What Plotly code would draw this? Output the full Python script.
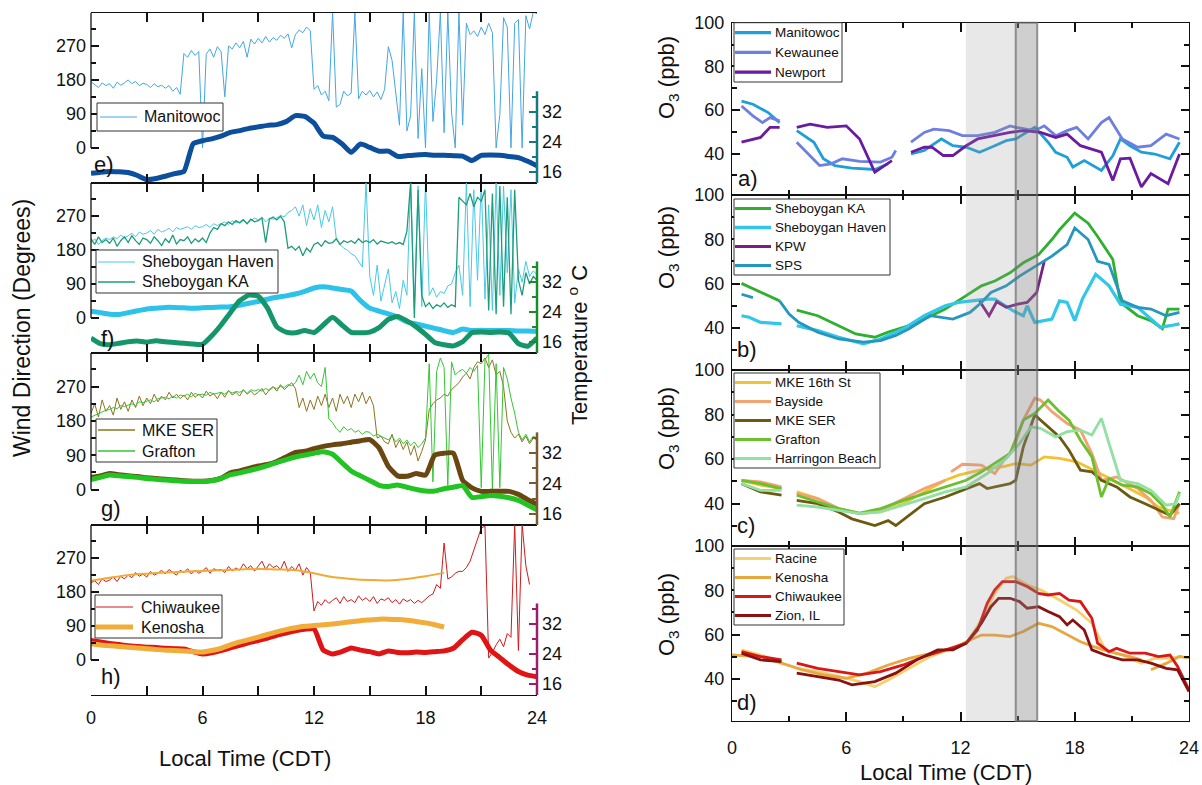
import numpy as np
import plotly.graph_objects as go

# ---------------------------------------------------------------------------
# Wind direction (degrees), one sample every 0.2 h starting at 00:00 CDT
# ---------------------------------------------------------------------------
WD_STEP = 0.2

MANITOWOC_WD = [
    175, 168, 160, 172, 165, 170, 158, 174, 166, 172, 180, 170, 176, 165, 171, 168, 160, 170, 162, 166,
    158, 165, 150, 160, 142, 250, 240, 258, 245, 255, 0, 248, 262, 240, 268, 255, 135, 270, 262, 278,
    265, 282, 240, 288, 275, 290, 278, 295, 280, 292, 285, 298, 290, 302, 265, 300, 312, 305, 320, 310,
    155, 165, 140, 150, 125, 360, 108, 115, 150, 138, 145, 360, 130, 150, 140, 152, 135, 148, 128, 155,
    268, 232, 145, 60, 360, 45, 85, 360, 25, 210, 0, 360, 70, 180, 360, 40, 360, 95, 0, 360,
    60, 330, 300, 310, 295, 320, 300, 330, 305, 0, 88, 345, 320, 0, 330, 340, 0, 350, 315, 360, 355]

SHEB_HAVEN_WD = [
    200, 210, 195, 205, 212, 208, 215, 210, 220, 212, 218, 225, 215, 228, 222, 225, 232, 222, 235, 228,
    232, 238, 228, 240, 235, 238, 242, 235, 245, 240, 242, 248, 240, 250, 245, 250, 255, 248, 258, 252,
    255, 262, 250, 258, 265, 260, 268, 255, 265, 262, 265, 272, 268, 280, 285, 295, 270, 300, 245, 290,
    260, 300, 240, 285, 255, 295, 210, 195, 185, 180, 170, 165, 150, 135, 360, 110, 60, 140, 45, 90,
    130, 40, 70, 25, 100, 60, 360, 20, 350, 30, 360, 60, 80, 55, 70, 65, 85, 90, 120, 140,
    60, 360, 30, 340, 100, 360, 50, 300, 20, 360, 60, 350, 120, 340, 40, 130, 95, 150, 110, 125, 115]

SHEB_KA_WD = [
    210, 195, 215, 200, 208, 198, 212, 190, 205, 215, 200, 218, 205, 195, 212, 208, 198, 215, 205, 192,
    210, 200, 220, 196, 208, 205, 215, 198, 210, 202, 212, 200, 225, 240, 235, 250, 245, 255, 248, 258,
    252, 260, 250, 262, 255, 258, 265, 200, 262, 268, 260, 270, 255, 185, 190, 180, 190, 165, 185, 175,
    195, 200, 190, 205, 198, 200, 210, 195, 205, 200, 205, 198, 210, 200, 205, 200, 208, 196, 204, 200,
    198, 202, 196, 200, 195, 230, 360, 0, 340, 60, 30, 40, 25, 35, 30, 40, 28, 35, 30, 320,
    310, 300, 330, 295, 320, 310, 340, 20, 330, 10, 350, 30, 320, 10, 340, 100, 60, 120, 90, 110, 100]

MKE_SER_WD = [
    200, 225, 190, 235, 205, 220, 195, 240, 210, 230, 205, 235, 215, 245, 220, 240, 225, 250, 230, 245,
    235, 255, 240, 250, 238, 248, 235, 255, 242, 250, 240, 258, 245, 252, 238, 255, 242, 260, 248, 255,
    245, 262, 250, 258, 248, 255, 265, 248, 262, 270, 258, 275, 262, 270, 280, 265, 215, 240, 205, 235,
    210, 245, 220, 250, 215, 240, 205, 250, 225, 245, 215, 250, 230, 255, 225, 245, 220, 135, 140, 125,
    120, 145, 110, 130, 105, 125, 90, 115, 75, 100, 130, 210, 225, 235, 240, 250, 245, 262, 270, 280,
    295, 305, 290, 320, 335, 330, 345, 320, 340, 300, 310, 270, 180, 150, 135, 145, 125, 140, 120, 135, 130]

GRAFTON_WD = [
    190, 195, 200, 205, 208, 210, 215, 212, 220, 218, 222, 225, 220, 230, 228, 232, 235, 230, 238, 240,
    242, 238, 245, 240, 248, 245, 250, 243, 252, 248, 250, 247, 255, 250, 252, 255, 250, 258, 253, 257,
    255, 260, 252, 262, 258, 262, 258, 265, 260, 268, 265, 270, 268, 275, 272, 280, 300, 275, 310, 290,
    305, 280, 270, 320, 185, 175, 160, 150, 165, 155, 160, 150, 155, 145, 152, 150, 140, 145, 140, 135,
    130, 140, 125, 135, 120, 130, 115, 125, 110, 120, 135, 330, 20, 310, 345, 320, 10, 335, 300, 310,
    315, 305, 320, 310, 325, 5, 340, 355, 0, 330, 5, 320, 290, 240, 200, 150, 130, 145, 125, 140, 135]

CHIWAUKEE_WD = [
    205, 210, 200, 215, 208, 212, 220, 208, 222, 215, 225, 218, 232, 222, 228, 220, 235, 225, 230, 238,
    228, 240, 232, 225, 238, 232, 242, 228, 238, 230, 236, 245, 230, 242, 238, 240, 232, 248, 236, 244,
    238, 255, 242, 250, 236, 248, 262, 240, 255, 245, 250, 240, 262, 235, 248, 238, 255, 225, 245, 232,
    130, 155, 145, 160, 150, 158, 165, 150, 168, 155, 160, 152, 170, 158, 165, 155, 168, 150, 162, 158,
    165, 152, 160, 148, 162, 155, 160, 150, 158, 152, 160, 170, 175, 200, 190, 310, 215, 220, 230, 235,
    235, 245, 262, 290, 320, 350, 355, 5, 20, 40, 55, 35, 70, 60, 360, 25, 360, 250, 200]

# Kenosha wind direction, hourly (smooth record)
KENOSHA_WD_T = list(range(0, 20))
KENOSHA_WD = [210, 218, 225, 229, 232, 234, 236, 238, 240, 241, 240, 238, 230, 220, 215, 212, 211, 215, 222, 231]

# ---------------------------------------------------------------------------
# Temperature (deg C), one sample every 0.5 h
# ---------------------------------------------------------------------------
T_STEP = 0.5

MANITOWOC_T = [15.6, 15.9, 16.1, 16.0, 15.8, 15.0, 13.9, 14.2, 14.8, 15.5, 16.1, 23.5, 24.3, 24.8, 25.5,
               26.5, 27.0, 27.6, 28.0, 28.4, 28.6, 29.4, 31.0, 30.8, 29.0, 25.5, 25.2, 23.5, 21.2, 23.4,
               22.5, 21.5, 21.5, 20.1, 20.3, 20.5, 20.6, 20.4, 20.4, 20.3, 20.2, 19.0, 20.4, 20.5, 20.4,
               20.1, 19.8, 18.8, 17.6]

SHEB_HAVEN_T = [24.2, 23.8, 23.4, 23.3, 23.8, 24.3, 24.8, 25.0, 25.2, 25.2, 25.1, 25.0, 25.1, 25.2, 25.3,
                25.4, 25.8, 26.3, 26.8, 27.4, 27.9, 28.3, 28.8, 29.5, 30.4, 30.7, 30.4, 30.0, 29.6, 27.0,
                25.0, 24.2, 23.5, 22.6, 21.3, 20.8, 20.2, 19.6, 19.0, 18.5, 19.4, 19.0, 19.1, 19.0, 19.0,
                19.0, 18.9, 18.9, 18.8]

SHEB_KA_T = [17.0, 15.5, 15.2, 15.6, 16.0, 16.2, 15.9, 16.3, 16.0, 15.8, 15.6, 15.4, 15.3, 17.6, 20.5,
             23.8, 27.0, 28.5, 28.2, 25.0, 20.0, 18.6, 18.4, 19.0, 18.5, 20.5, 22.6, 20.5, 18.5, 18.4,
             18.6, 19.8, 22.0, 22.8, 21.6, 20.0, 18.0, 15.8, 15.2, 14.9, 16.0, 18.4, 18.6, 18.5, 18.6,
             18.3, 15.5, 14.8, 17.0]

MKE_SER_T = [25.6, 26.0, 26.6, 26.3, 26.0, 25.8, 25.5, 25.3, 25.1, 24.9, 24.7, 24.6, 24.6, 24.8, 25.4,
             26.8, 27.3, 28.0, 28.6, 29.0, 29.8, 31.0, 32.2, 32.5, 33.2, 33.8, 34.2, 34.5, 34.9, 35.3,
             35.6, 33.4, 28.5, 26.0, 25.9, 26.6, 26.2, 31.5, 32.0, 32.0, 24.8, 22.8, 21.9, 21.9, 21.9,
             21.9, 21.1, 19.7, 18.5]

GRAFTON_T = [25.0, 25.6, 26.2, 26.0, 25.8, 25.6, 25.3, 25.1, 24.9, 24.7, 24.6, 24.5, 24.5, 24.7, 25.3,
             26.3, 26.8, 27.4, 28.0, 28.7, 29.5, 30.3, 31.0, 31.5, 32.0, 32.4, 31.7, 29.5, 27.3, 26.0,
             24.8, 23.5, 23.2, 23.6, 23.0, 22.4, 22.0, 22.0, 22.6, 23.0, 23.4, 20.3, 20.5, 20.8, 20.6,
             20.2, 19.5, 18.3, 17.0]

KENOSHA_T = [26.7, 26.4, 26.2, 26.0, 25.8, 25.6, 25.4, 25.2, 25.0, 24.9, 24.8, 24.6, 24.5, 24.9, 25.5,
             26.4, 27.2, 27.8, 28.5, 29.2, 29.9, 30.5, 31.0, 31.4, 31.6, 31.8, 32.0, 32.3, 32.6, 32.9,
             33.1, 33.3, 33.3, 33.2, 33.0, 32.7, 32.3, 31.8, 31.2]

CHIWAUKEE_T = [27.6, 27.2, 26.8, 26.5, 26.2, 26.0, 25.8, 25.7, 25.5, 25.4, 25.3, 24.6, 24.0, 24.3, 24.9,
               25.6, 26.3, 27.0, 27.6, 28.2, 29.0, 29.6, 30.2, 30.6, 30.7, 25.0, 24.0, 24.6, 25.6, 25.0,
               24.6, 24.0, 24.8, 24.4, 24.3, 24.5, 24.4, 24.6, 24.8, 25.5, 27.8, 29.8, 29.0, 25.0, 23.0,
               21.0, 19.3, 18.3, 17.9]

# ---------------------------------------------------------------------------
# Hourly-averaged O3 (ppb); None marks gaps in the record
# ---------------------------------------------------------------------------
MANITOWOC_O3_T = [0.5, 1.1, 1.9, 2.5, None, 3.4, 4.3, 4.8, 5.4, 6.3, 7.5, 8.2, None, 9.4, 10.1, 11.0, 11.6,
                  12.3, 13.0, 13.8, 14.4, 14.9, 15.9, 16.6, 17.0, 17.6, 17.9, 18.5, 19.4, 20.0, 20.4, 20.9,
                  21.5, 22.2, 23.0, 23.5]
MANITOWOC_O3 = [64, 62.6, 58.8, 54.2, None, 50.5, 45.2, 37.6, 34.5, 33.3, 32.7, 35.3, None, 39.8, 41.4, 46.7,
                43.6, 42.9, 40.6, 43.6, 45.9, 46.7, 52, 45.2, 40.6, 38.3, 33.8, 36.8, 32.3, 39, 46.7, 43.6,
                40.6, 39.8, 37.6, 45.2]

KEWAUNEE_O3_T = [0.5, 1.1, 1.6, 2.0, 2.5, None, 3.4, 4.1, 4.6, 5.2, 5.8, 6.7, 7.8, 8.4, 8.6, None, 9.4, 10.1,
                 10.6, 11.4, 12.1, 12.9, 13.8, 14.6, 14.9, 15.9, 16.4, 17.0, 17.6, 18.1, 18.7, 19.4, 19.8,
                 20.5, 21.3, 22.0, 22.8, 23.5]
KEWAUNEE_O3 = [61.8, 57.3, 54.2, 56.5, 55, None, 45.2, 39.1, 34.5, 35.3, 37.6, 36.4, 36.1, 38.3, 41.4, None,
               45.2, 49.7, 51.2, 50.5, 48.2, 48.2, 49.7, 52.7, 52, 50.5, 52.7, 48.2, 50.5, 52, 46.7, 54.2,
               56.5, 46.7, 42.9, 43.6, 48.9, 46.7]

NEWPORT_O3_T = [0.5, 1.5, 2.0, 2.5, None, 3.4, 4.1, 5.0, 6.0, 6.7, 7.5, 8.4, None, 9.4, 10.1, 10.5, 11.1, 11.6,
                12.3, 12.9, 13.8, 14.6, 15.3, 16.2, 17.0, 17.6, 18.3, 18.8, 19.4, 20.0, 20.4, 20.9, 21.5,
                22.0, 22.9, 23.5]
NEWPORT_O3 = [45.2, 47.4, 52, 52, None, 52, 53.5, 52, 52.7, 46.7, 31.5, 36.8, None, 40.6, 42.9, 42.9, 39.1,
              39.1, 43.6, 46.7, 48.2, 49.7, 50.5, 49.7, 47.4, 48.9, 43.6, 42.1, 40.6, 27.7, 37.6, 37.9, 24.7,
              30.8, 26.2, 39.8]

SHEB_KA_O3_T = [0.5, 1.5, 2.5, None, 3.4, 4.5, 5.6, 6.5, 7.5, 8.2, 9.3, 10.1, 11.2, 12.3, 13.1, 13.8, 14.6,
                15.3, 16.1, 16.8, 17.2, 18.0, 18.7, 19.2, 20.0, 20.4, 21.3, 22.0, 22.6, 22.9, 23.5]
SHEB_KA_O3 = [60.1, 56, 52.2, None, 48, 45.5, 41, 37.3, 35.8, 38.1, 41, 44, 48.5, 54.5, 59, 61.2, 64.9, 69.4,
              73.1, 79.9, 84.3, 91.8, 87.3, 81.3, 70.9, 51.5, 45.5, 43.3, 39.6, 48.5, 48.5]

SHEB_HAVEN_O3_T = [0.5, 0.9, 1.5, 2.6, None, 3.4, 4.5, 5.6, 6.9, 7.8, 9.0, 10.1, 11.2, 11.9, 12.5, 13.4, 13.8,
                   14.75, 15.3, 15.5, 15.9, 16.8, 17.2, 17.6, 18.0, 18.4, 19.1, 19.8, 20.4, 21.3, 22.0, 22.5,
                   23.0, 23.5]
SHEB_HAVEN_O3 = [45.5, 44.8, 42.5, 41.8, None, 41, 38.8, 35.8, 32.8, 35, 39.6, 45.5, 50, 51.5, 52.2, 53, 53,
                 47.8, 45.5, 50, 42.5, 44, 52.2, 51.5, 43.3, 53, 64.2, 59, 50.7, 49.3, 44, 40.3, 41, 41.8]

KPW_O3_T = [13.0, 13.5, 13.9, 14.4, 15.0, 15.5, 16.0, 16.4]
KPW_O3 = [52.2, 45.5, 51.8, 49.3, 50.7, 51.5, 56, 70.1]

SPS_O3_T = [0.5, 1.1, None, 2.5, 3.0, 3.5, 4.5, 5.6, 6.9, 7.8, 8.6, 9.3, 10.4, 11.6, 12.5, 13.1, 13.6, 14.4,
            15.1, 16.1, 16.8, 17.6, 18.0, 18.7, 19.2, 19.8, 20.5, 21.3, 22.0, 22.8, 23.5]
SPS_O3 = [55.2, 53.7, None, 52.2, 46.3, 42.5, 38.1, 35, 33.6, 34.3, 36.6, 39.6, 45.5, 44, 47, 51.5, 56, 59,
          63.4, 68.7, 72.4, 77.6, 85.1, 79.9, 70.1, 68.7, 52.2, 49.3, 48.5, 45.5, 47]

MKE16_O3_T = [0.5, 1.5, 2.6, None, 3.4, 4.5, 5.6, 6.7, 7.8, 9.0, 10.1, 11.2, 11.9, 12.7, 13.4, 14.2, 14.9,
              15.7, 16.4, 17.2, 18.1, 19.0, 19.8, 20.7, 21.7, 22.4, 23.2, 23.5]
MKE16_O3 = [50.5, 48.3, 46.8, None, 45.3, 42.3, 37.8, 35.5, 36.3, 40, 45.3, 50.5, 52.8, 54.3, 55.8, 56.5, 58,
            57.3, 61, 60.3, 58.8, 55, 51.3, 47.5, 43, 38.5, 36.3, 35.8]

BAYSIDE_O3_T = [0.5, 1.5, 2.6, None, 3.4, 4.5, 5.6, 6.7, 7.8, 9.0, 10.1, 11.2, None, 11.5, 12.1, 13.1, 13.8,
                14.4, 14.75, 15.3, 15.9, 16.2, 16.8, 17.6, 18.3, 18.9, 19.4, 20.2, 21.3, 22.0, 22.6, 23.2, 23.5]
BAYSIDE_O3 = [50.5, 49.8, 47.5, None, 44.5, 42.3, 37.8, 35.5, 37, 42.3, 46.8, 50.5, None, 54.3, 57.7, 57.3,
              53.5, 61, 64, 77.5, 87.3, 86.5, 81.3, 76, 73, 62.5, 50.5, 52, 46.8, 41.5, 34, 33.3, 40]

MKESER_O3_T = [0.5, 1.5, 2.6, None, 3.4, 4.5, 5.6, 6.3, 7.5, 8.2, 8.6, 9.3, 10.1, 11.2, 12.3, 13.0, 13.4, 13.8,
               14.6, 14.9, 15.3, 15.9, 16.6, 17.2, 17.7, 18.3, 18.9, 19.4, 20.2, 20.9, 21.7, 22.4, 23.0, 23.5]
MKESER_O3 = [49, 45.3, 43.8, None, 41.5, 40, 36.3, 33.2, 30.2, 32.4, 30.2, 34.7, 40, 43, 46.8, 49, 46.8, 47.5,
             49, 50.5, 65.5, 79.8, 74.5, 70, 64, 55, 54.3, 50.5, 47.5, 43, 40, 37, 34.8, 40]

GRAFTON_O3_T = [0.5, 1.5, 2.6, None, 3.4, 4.5, 5.6, 6.7, 7.8, 9.0, 10.1, 11.2, 12.3, 13.1, 13.8, 14.6, 15.3,
                15.9, 16.6, 17.2, 17.7, 18.3, 18.9, 19.4, 19.8, 20.5, 21.3, 22.0, 22.6, 23.0, 23.5]
GRAFTON_O3 = [50.5, 49, 46.8, None, 43.8, 40.8, 37.8, 35.8, 37.8, 41.5, 44.5, 47.5, 50.5, 54.3, 58, 62.5,
              77.5, 80.5, 86.5, 81.3, 77.5, 68.5, 61, 43, 51.3, 48.3, 47.5, 44.5, 39.3, 34, 45.3]

HARRINGTON_O3_T = [0.5, 1.5, 2.6, None, 3.4, 4.5, 5.6, 6.7, 7.8, 9.0, 10.1, 11.2, 12.3, 13.4, 14.4, 15.1,
                   15.7, 16.2, 17.0, 17.6, 18.3, 18.9, 19.4, 19.8, 20.4, 21.3, 22.0, 22.8, 23.3, 23.5]
HARRINGTON_O3 = [49, 46, 46, None, 39.3, 38.5, 37, 35.5, 36.3, 39.3, 42.3, 45.3, 47.5, 53.5, 60.3, 67, 74.5,
                 73.8, 70, 72.3, 73, 70.8, 78.3, 67, 50.5, 49, 46, 39.3, 40, 44.5]

RACINE_O3_T = [0.5, 1.5, 2.6, None, 3.4, 4.5, 5.6, 6.7, 7.5, 8.2, 9.3, 10.4, 11.6, 12.3, 13.1, 13.8, 14.4,
               14.75, 15.5, 16.2, 17.2, 18.1, 18.9, 19.6, 20.5, 21.5, 22.2, 23.0, 23.5]
RACINE_O3 = [53.1, 50.8, 47.1, None, 44.8, 43.3, 41.1, 38.8, 36.5, 39.5, 44.8, 50.1, 53.8, 56.1, 66.6, 78.6,
             85.4, 86.2, 82.4, 80.2, 75.6, 71.1, 65.1, 53.1, 50.8, 47.1, 49.3, 49.3, 50.1]

KENOSHA_O3_T = [0.0, 1.5, 2.6, 3.7, 4.8, 6.0, 7.1, 8.2, 9.3, 10.4, 11.6, 12.3, 13.1, 13.8, 14.6, 15.3, 16.1,
                16.8, 17.6, 18.3, 19.0, 19.8, 20.9, 21.5, None, 22.0, 22.8, 23.5, 24.0]
KENOSHA_O3 = [50.8, 50.1, 47.1, 44.1, 41.8, 40.3, 42.6, 46.3, 49.3, 51.6, 53.8, 56.8, 59.8, 59.8, 59.1, 61.4,
              65.1, 63.6, 59.8, 56.8, 54.6, 52.3, 50.1, 48.6, None, 44.1, 47, 50.1, 49.5]

CHIWAUKEE_O3_T = [0.5, 1.5, 2.6, None, 3.4, 4.5, 5.6, 6.7, 7.8, 9.0, 10.1, 11.2, 12.3, 12.9, 13.4, 13.8, 14.2,
                  14.9, 15.5, 16.1, 16.6, 17.2, 17.7, 18.3, 18.9, 19.2, 19.8, 20.2, 20.9, 21.7, 22.4, 23.0,
                  23.4, 24.0]
CHIWAUKEE_O3 = [52.3, 50.1, 48.6, None, 47.1, 44.8, 43.3, 41.8, 43.3, 46.3, 50.1, 53.1, 56.1, 62.1, 74.1,
                80.2, 83.9, 83.9, 81.7, 78.6, 77.9, 78.6, 75.6, 74.9, 67.4, 56.1, 52.3, 53.8, 51.6, 51.6,
                50.1, 50.8, 45.6, 35]

ZION_O3_T = [0.5, 1.5, 2.6, None, 3.4, 4.5, 5.6, 6.3, 7.5, 8.6, 9.7, 10.8, 11.6, 12.3, 13.1, 13.6, 14.0,
             14.6, 15.1, 15.5, 16.1, 16.6, 17.2, 17.6, 17.9, 18.5, 18.9, 19.6, 20.5, 21.3, 22.0, 22.8, 23.4, 24.0]
ZION_O3 = [51.6, 48.6, 47.8, None, 42.6, 41.1, 39.5, 37.3, 38.8, 42.6, 48.6, 53.1, 53.1, 56.1, 65.1, 72.6,
           76.4, 76.4, 74.9, 71.9, 72.6, 70.4, 68.1, 64.4, 66.6, 62.1, 53.1, 50.8, 48.6, 48.6, 47.1, 44.8,
           44.1, 34.3]

# Afternoon windows highlighted on the O3 panels (hours CDT)
WINDOW_WIDE = (12.28, 16.03)
WINDOW_NARROW = (14.9, 16.03)

TIME_TICKS = [0, 6, 12, 18, 24]
TIME_MINOR = [3, 9, 15, 21]
WD_TICKS = [0, 90, 180, 270]
WD_MINOR = [45, 135, 225, 315]
T_TICKS = [16, 24, 32]
T_MINOR = [20, 28, 36]
O3_TICKS = [40, 60, 80, 100]
O3_MINOR = [30, 50, 70, 90]

# ---------------------------------------------------------------------------
# Page geometry (pixels) and helpers
# ---------------------------------------------------------------------------
W, H = 1202, 785
FONT = "Liberation Sans, Arial, Helvetica, sans-serif"
INK = "#111111"

LX0, LX1 = 91, 537
L_ROWS = [(12.7, 183), (183, 353), (353, 525), (525, 695)]
RX0, RX1 = 732, 1189
R_ROWS = [(22.7, 195), (195, 370), (370, 546), (546, 721)]

WD_RANGE = [-93, 358]
T_RANGE = [13, 58.5]
O3_RANGE = [21, 100]
AX_W = 1.3


def fx(p):
    return p / W


def fy(p):
    return 1 - p / H


def axkey(letter, n):
    return f"{letter}axis" if n == 1 else f"{letter}axis{n}"


def axref(letter, n):
    return letter if n == 1 else f"{letter}{n}"


def times(values, step):
    return list(np.round(np.arange(len(values)) * step, 2))


fig = go.Figure()

# ---------------------------------------------------------------------------
# Left column: wind direction (thin) + temperature (thick)
# ---------------------------------------------------------------------------
C_MANI_WD, C_MANI_T = "#44a6e4", "#0c4f9c"
C_HAV_WD, C_HAV_T = "#47c9e8", "#2cc2ea"
C_KA_WD, C_KA_T = "#1f9c7a", "#15966a"
C_SER_WD, C_SER_T = "#8d7420", "#6a4612"
C_GRA_WD, C_GRA_T = "#34c634", "#22c422"
C_CHI_WD, C_CHI_T = "#cf1a1a", "#e01414"
C_KEN_WD, C_KEN_T = "#f0aa35", "#f0ad3a"

left_panels = [
    dict(label="e)", spine="#17797f",
         wind=[("Manitowoc", MANITOWOC_WD, C_MANI_WD, 1.0)],
         temp=[("Manitowoc", MANITOWOC_T, C_MANI_T)]),
    dict(label="f)", spine="#1b8c2c",
         wind=[("Sheboygan Haven", SHEB_HAVEN_WD, C_HAV_WD, 1.0),
               ("Sheboygan KA", SHEB_KA_WD, C_KA_WD, 1.3)],
         temp=[("Sheboygan Haven", SHEB_HAVEN_T, C_HAV_T),
               ("Sheboygan KA", SHEB_KA_T, C_KA_T)]),
    dict(label="g)", spine="#7a5a30",
         wind=[("MKE SER", MKE_SER_WD, C_SER_WD, 1.0),
               ("Grafton", GRAFTON_WD, C_GRA_WD, 1.0)],
         temp=[("MKE SER", MKE_SER_T, C_SER_T),
               ("Grafton", GRAFTON_T, C_GRA_T)]),
    dict(label="h)", spine="#981f6c",
         wind=[("Chiwaukee", CHIWAUKEE_WD, C_CHI_WD, 1.0)],
         temp=[("Chiwaukee", CHIWAUKEE_T, C_CHI_T),
               ("Kenosha", KENOSHA_T, C_KEN_T)]),
]

for i, p in enumerate(left_panels):
    xr, yw, yt = axref("x", i + 1), axref("y", i + 1), axref("y", i + 5)
    for name, vals, color, width in p["wind"]:
        fig.add_trace(go.Scatter(x=times(vals, WD_STEP), y=vals, mode="lines", name=name,
                                 line=dict(color=color, width=width), xaxis=xr, yaxis=yw))
    if i == 3:
        fig.add_trace(go.Scatter(x=KENOSHA_WD_T, y=KENOSHA_WD, mode="lines", name="Kenosha",
                                 line=dict(color=C_KEN_WD, width=2, shape="spline"),
                                 xaxis=xr, yaxis=yw))
    for name, vals, color in p["temp"]:
        fig.add_trace(go.Scatter(x=times(vals, T_STEP), y=vals, mode="lines", name=name,
                                 line=dict(color=color, width=5, shape="spline", smoothing=0.5),
                                 xaxis=xr, yaxis=yt))

# ---------------------------------------------------------------------------
# Right column: O3
# ---------------------------------------------------------------------------
right_panels = [
    dict(label="a)", series=[
        ("Manitowoc", MANITOWOC_O3_T, MANITOWOC_O3, "#1f9ed8", 2.8),
        ("Kewaunee", KEWAUNEE_O3_T, KEWAUNEE_O3, "#6e7fe0", 2.8),
        ("Newport", NEWPORT_O3_T, NEWPORT_O3, "#6a1ba0", 2.8)]),
    dict(label="b)", series=[
        ("Sheboygan KA", SHEB_KA_O3_T, SHEB_KA_O3, "#2db02d", 2.8),
        ("Sheboygan Haven", SHEB_HAVEN_O3_T, SHEB_HAVEN_O3, "#31c7e8", 3.2),
        ("KPW", KPW_O3_T, KPW_O3, "#7b2080", 2.8),
        ("SPS", SPS_O3_T, SPS_O3, "#2596be", 2.8)]),
    dict(label="c)", series=[
        ("MKE 16th St", MKE16_O3_T, MKE16_O3, "#f2c232", 2.8),
        ("Bayside", BAYSIDE_O3_T, BAYSIDE_O3, "#f2a273", 2.8),
        ("MKE SER", MKESER_O3_T, MKESER_O3, "#6b5a10", 2.8),
        ("Grafton", GRAFTON_O3_T, GRAFTON_O3, "#6cbf2e", 2.8),
        ("Harringon Beach", HARRINGTON_O3_T, HARRINGTON_O3, "#92e0a2", 2.8)]),
    dict(label="d)", series=[
        ("Racine", RACINE_O3_T, RACINE_O3, "#f5d070", 2.8),
        ("Kenosha", KENOSHA_O3_T, KENOSHA_O3, "#e8a840", 2.8),
        ("Chiwaukee", CHIWAUKEE_O3_T, CHIWAUKEE_O3, "#d81818", 2.8),
        ("Zion, IL", ZION_O3_T, ZION_O3, "#8b1010", 2.8)]),
]

for j, p in enumerate(right_panels):
    xr, yr = axref("x", j + 5), axref("y", j + 9)
    for name, t, v, color, width in p["series"]:
        fig.add_trace(go.Scatter(x=t, y=v, mode="lines", name=name, connectgaps=False,
                                 line=dict(color=color, width=width), xaxis=xr, yaxis=yr))

# ---------------------------------------------------------------------------
# Axes
# ---------------------------------------------------------------------------
layout = dict(width=W, height=H, margin=dict(l=0, r=0, t=0, b=0, autoexpand=False), showlegend=False,
              paper_bgcolor="white", plot_bgcolor="rgba(0,0,0,0)",
              font=dict(family=FONT, size=18, color=INK))


def time_axis(domain, anchor, labels, standoff):
    return dict(domain=domain, anchor=anchor, range=[0, 24], tickmode="array", tickvals=TIME_TICKS,
                ticks="inside", ticklen=9, tickwidth=1.5, tickcolor=INK, showline=True,
                linecolor=INK, linewidth=AX_W, mirror="allticks", showgrid=False, zeroline=False,
                showticklabels=labels, tickfont=dict(size=18), ticklabelstandoff=standoff,
                automargin=False,
                minor=dict(tickmode="array", tickvals=TIME_MINOR, ticks="inside", ticklen=5,
                           tickwidth=1.5, tickcolor=INK, showgrid=False))


for i, (top, bot) in enumerate(L_ROWS):
    dom_y = [fy(bot), fy(top)]
    spine = left_panels[i]["spine"]
    layout[axkey("x", i + 1)] = time_axis([fx(LX0), fx(LX1)], axref("y", i + 1), i == 3, 6)
    layout[axkey("y", i + 1)] = dict(
        domain=dom_y, anchor=axref("x", i + 1), range=WD_RANGE, tickmode="array", tickvals=WD_TICKS,
        ticks="inside", ticklen=8, tickwidth=1.5, tickcolor=INK, showline=False, showgrid=False,
        zeroline=False, tickfont=dict(size=18), ticklabelstandoff=4, automargin=False,
        minor=dict(tickmode="array", tickvals=WD_MINOR, ticks="inside", ticklen=5, tickwidth=1.5,
                   tickcolor=INK, showgrid=False))
    layout[axkey("y", i + 5)] = dict(
        anchor=axref("x", i + 1), overlaying=axref("y", i + 1), side="right", range=T_RANGE,
        tickmode="array", tickvals=T_TICKS, ticks="inside", ticklen=8, tickwidth=2, tickcolor=spine,
        showline=False, showgrid=False, zeroline=False, tickfont=dict(size=18), ticklabelstandoff=4,
        automargin=False,
        minor=dict(tickmode="array", tickvals=T_MINOR, ticks="inside", ticklen=5, tickwidth=2,
                   tickcolor=spine, showgrid=False))

for j, (top, bot) in enumerate(R_ROWS):
    dom_y = [fy(bot), fy(top)]
    layout[axkey("x", j + 5)] = time_axis([fx(RX0), fx(RX1)], axref("y", j + 9), j == 3, 10)
    layout[axkey("y", j + 9)] = dict(
        domain=dom_y, anchor=axref("x", j + 5), range=O3_RANGE, tickmode="array", tickvals=O3_TICKS,
        ticks="inside", ticklen=8, tickwidth=1.5, tickcolor=INK, showline=True, linecolor=INK,
        linewidth=AX_W, mirror="allticks", showgrid=False, zeroline=False, tickfont=dict(size=18),
        ticklabelstandoff=3, automargin=False,
        minor=dict(tickmode="array", tickvals=O3_MINOR, ticks="inside", ticklen=5, tickwidth=1.5,
                   tickcolor=INK, showgrid=False))

# ---------------------------------------------------------------------------
# Partial spines of the left column, highlighted windows on the right
# ---------------------------------------------------------------------------
shapes = []
for i, p in enumerate(left_panels):
    shapes.append(dict(type="line", xref=f"{axref('x', i + 1)} domain", yref=axref("y", i + 1),
                       x0=0, x1=0, y0=0, y1=WD_RANGE[1], line=dict(color=INK, width=AX_W)))
    shapes.append(dict(type="line", xref=f"{axref('x', i + 1)} domain", yref=axref("y", i + 5),
                       x0=1, x1=1, y0=T_RANGE[0], y1=37.5, line=dict(color=p["spine"], width=2.5)))

shapes.append(dict(type="rect", xref="x5", yref="paper", x0=WINDOW_WIDE[0], x1=WINDOW_WIDE[1],
                   y0=fy(R_ROWS[-1][1]), y1=fy(R_ROWS[0][0]), layer="above",
                   fillcolor="rgba(150,150,150,0.22)", line=dict(width=0)))
shapes.append(dict(type="rect", xref="x5", yref="paper", x0=WINDOW_NARROW[0], x1=WINDOW_NARROW[1],
                   y0=fy(R_ROWS[-1][1]), y1=fy(R_ROWS[0][0]), layer="above",
                   fillcolor="rgba(120,120,120,0.22)", line=dict(color="rgba(110,110,110,0.7)", width=2)))


# ---------------------------------------------------------------------------
# Text
# ---------------------------------------------------------------------------
def note(text, x, y, size, angle=0, xanchor="center"):
    return dict(text=text, x=fx(x), y=fy(y), xref="paper", yref="paper", showarrow=False,
                textangle=angle, xanchor=xanchor, yanchor="middle",
                font=dict(family=FONT, size=size, color=INK))


annotations = [
    note("e)", 92, 165, 22, xanchor="left"),
    note("f)", 99, 338, 22, xanchor="left"),
    note("g)", 99, 508, 22, xanchor="left"),
    note("h)", 99, 676, 22, xanchor="left"),
    note("a)", 736, 179, 22, xanchor="left"),
    note("b)", 735, 349, 22, xanchor="left"),
    note("c)", 735, 525, 22, xanchor="left"),
    note("d)", 735, 702, 22, xanchor="left"),
    note("Wind Direction (Degrees)", 22, 328, 23, angle=-90),
    note("Temperature <sup>o</sup> C", 578, 345, 22, angle=-90),
    note("Local Time (CDT)", 245, 758, 22),
    note("Local Time (CDT)", 946, 772, 22),
]
for yc in (77, 247, 428, 614):
    annotations.append(note("O<sub>3</sub> (ppb)", 668, yc, 22, angle=-90))

# ---------------------------------------------------------------------------
# Station keys: framed boxes with a line sample and the station name
# ---------------------------------------------------------------------------
KEYS = [
    # box (x0, x1, y0, y1), sample (x0, x1), text x, font size, rows (name, colour, width, y)
    ((97, 223, 103, 131), (100, 137), 142, 16, [("Manitowoc", C_MANI_WD, 1.0, 117)]),
    ((96, 278, 250, 293), (98, 135), 140, 16, [("Sheboygan Haven", C_HAV_WD, 1.0, 262),
                                               ("Sheboygan KA", C_KA_WD, 1.6, 282)]),
    ((96, 217, 419, 462), (98, 135), 140, 16, [("MKE SER", C_SER_WD, 1.5, 430),
                                               ("Grafton", C_GRA_WD, 1.5, 451)]),
    ((95, 222, 595, 638), (96, 133), 139, 16, [("Chiwaukee", C_CHI_WD, 1.0, 607),
                                               ("Kenosha", C_KEN_T, 5, 627)]),
]
for p, box in zip(right_panels, [(734, 842, 22.7, 82), (734, 890, 199, 275),
                                 (734, 880, 373, 468), (734, 844, 549, 625)]):
    rows = []
    n = len(p["series"])
    step = (box[3] - box[2]) / n
    for k, (name, _, _, color, width) in enumerate(p["series"]):
        rows.append((name, color, width + 0.4, box[2] + step * (k + 0.5)))
    KEYS.append((box, (735, 771), 773, 13.5, rows))

for (bx0, bx1, by0, by1), (sx0, sx1), tx, size, rows in KEYS:
    shapes.append(dict(type="rect", xref="paper", yref="paper", x0=fx(bx0), x1=fx(bx1),
                       y0=fy(by1), y1=fy(by0), fillcolor="white", layer="above",
                       line=dict(color="#333333", width=1)))
    for name, color, width, yc in rows:
        shapes.append(dict(type="line", xref="paper", yref="paper", x0=fx(sx0), x1=fx(sx1),
                           y0=fy(yc), y1=fy(yc), layer="above", line=dict(color=color, width=width)))
        annotations.append(note(name, tx, yc, size, xanchor="left"))

layout["shapes"] = shapes
layout["annotations"] = annotations

fig.update_layout(**layout)
fig.write_html("out.html")
